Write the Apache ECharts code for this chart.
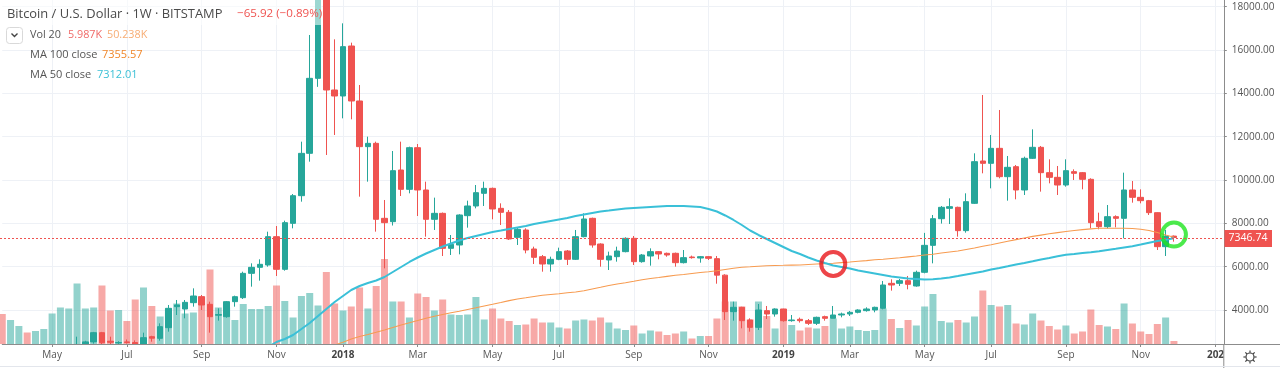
<!DOCTYPE html>
<html><head><meta charset="utf-8">
<script src="https://cdn.jsdelivr.net/npm/echarts@6/dist/echarts.min.js"></script>
<style>html,body{margin:0;padding:0;background:#fff}#c{width:1280px;height:368px}</style>
</head><body><div id="c"></div><script>
// ---- categories: weekly bars starting Monday 2017-03-20 (plus a few empty future weeks)
const firstWeek = '2017-03-20';
const weekCount = 148;
const categories = [];
(function(){ const t0 = Date.parse(firstWeek + 'T00:00:00Z');
  for (let i = 0; i < weekCount; i++) categories.push(new Date(t0 + i*7*864e5).toISOString().slice(0,10)); })();

// ---- x tick labels
const tickLabels = [
 ['2017-05-01','May'],['2017-07-03','Jul'],['2017-09-04','Sep'],['2017-11-06','Nov'],
 ['2018-01-01','2018'],['2018-03-05','Mar'],['2018-05-07','May'],['2018-07-02','Jul'],['2018-09-03','Sep'],['2018-11-05','Nov'],
 ['2019-01-07','2019'],['2019-03-04','Mar'],['2019-05-06','May'],['2019-07-01','Jul'],['2019-09-02','Sep'],['2019-11-04','Nov'],
 ['2020-01-06','202']];
const priceTicks = [4000,6000,8000,10000,12000,14000,16000,18000];

// ---- OHLC (USD), one entry per week from 2017-03-20 to 2019-12-02
const opens = [
 1040,965,1085,1190,1175,1255,1395,1620,1750,2050,
 2150,2530,2955,2560,2480,2530,2500,1920,2770,2694,
 3186,4155,4047,4340,4616,4263,3760,3693,4386,4570,
 5693,5970,6078,7385,5878,8001,9277,11232,14693,19000,
 14155,13878,16185,13647,11540,11693,8232,8078,10462,9570,
 11493,9540,8186,8462,6847,7001,8355,8801,9386,9616,
 8693,8509,7355,7693,6817,6463,6124,6340,6724,6340,
 7386,8232,7047,6309,6463,6694,7309,6232,6494,6694,
 6617,6617,6186,6447,6400,6463,6370,5610,3925,4125,
 3540,3201,3971,3817,4048,3509,3571,3509,3386,3694,
 3617,3771,3817,3894,3971,4001,4078,5232,5232,5355,
 5109,5740,6985,8215,8693,8740,7663,8924,10878,10770,
 11462,10155,10616,9540,11001,11509,10339,10124,9770,10386,
 10339,10032,8078,7847,8309,8232,9540,9201,9047,8493,
 6924,7412.66];
const highs = [
 1075,1100,1210,1215,1265,1420,1650,1790,2100,2770,
 2580,2990,2990,2770,2560,2640,2600,2955,2810,3386,
 4232,4463,4463,5001,4693,4386,4078,4416,4663,5770,
 6155,6340,7616,7877,8124,9354,11770,16693,19666,19300,
 16493,17231,16339,14385,12001,11770,9078,11339,11770,11540,
 11662,9924,9186,8500,7462,8420,9047,9770,9924,9650,
 8924,8616,7816,7770,6924,6540,6463,6878,6770,7694,
 8463,8263,7078,6694,6924,7355,7417,6586,6847,6724,
 6650,6650,6770,6510,6494,6494,6494,5650,4386,4150,
 3617,4278,4186,4078,4060,3771,3650,3586,3694,3740,
 4186,3880,3956,4032,4125,4155,5340,5417,5432,5571,
 5817,7560,8386,8801,9155,8770,9386,11232,13924,12078,
 13232,11109,10693,11078,12339,11570,10955,10647,10955,10493,
 10370,10080,8493,8847,8370,10339,9955,9570,9080,8510,
 7693,7440];
const lows = [
 900,940,1040,1160,1165,1240,1390,1570,1700,1900,
 2100,2450,2150,2350,2300,2450,1840,1880,2540,2586,
 3001,3770,3617,4155,4001,2955,3509,3647,4155,4509,
 5078,5355,6001,5570,5816,7770,9001,10847,14300,11155,
 12078,12847,12801,9232,9924,7617,5924,7900,9262,9386,
 8339,7386,7694,6493,6539,6570,7801,8693,8801,8186,
 7924,7232,7001,6617,6124,5770,5770,6300,6078,6309,
 7355,6878,6001,5847,6232,6663,6078,6186,6047,6340,
 6460,6001,6150,6370,6186,6309,5215,3540,3509,3155,
 3001,3078,3586,3694,3463,3460,3420,3310,3310,3509,
 3617,3663,3725,3848,3925,3894,4032,4894,5109,4955,
 5078,5694,6155,7990,7970,7386,7570,8893,10309,9616,
 10078,9047,9109,9309,10970,9463,9847,9309,9693,10001,
 9570,7770,7724,7770,7816,7309,8955,8924,8386,6770,
 6493,7155];
const closes = [
 965,1085,1180,1175,1255,1395,1620,1750,2050,2150,
 2530,2955,2490,2510,2500,2500,2250,2724,2700,3232,
 4078,4232,4355,4647,4232,3693,3790,4386,4616,5693,
 5970,6109,7385,5878,8032,9277,11231,14693,19000,14155,
 13878,16155,13647,11540,11693,8186,8032,10432,9570,11493,
 9540,8186,8462,6847,7032,8386,8801,9416,9616,8663,
 8509,7278,7724,6770,6432,6124,6340,6694,6340,7386,
 8201,7001,6340,6494,6724,7309,6232,6540,6694,6586,
 6540,6186,6417,6417,6463,6386,5610,3925,4125,3509,
 3201,4001,3817,4048,3509,3540,3509,3386,3663,3617,
 3771,3817,3894,4001,4048,4125,5155,5155,5355,5186,
 5740,6985,8215,8740,8770,7663,9001,10847,10770,11462,
 10155,10586,9540,11001,11509,10339,10124,9770,10432,10309,
 10032,8032,7847,8309,8232,9540,9201,9047,8493,6924,
 7412.66,7346.74];
// ---- weekly volume (K BTC)
const volumes = [
 60,48,36,23,26,30,61,73,71,121,
 71,73,117,67,68,46,89,113,76,55,
 71,81,61,63,95,149,73,73,48,80,
 70,70,76,117,86,53,96,102,77,144,
 81,67,75,113,71,116,170,85,85,53,
 101,94,67,89,59,58,59,94,49,71,
 51,46,38,39,51,43,43,33,31,47,
 49,47,53,43,31,28,37,21,27,25,
 18,21,25,11,16,16,51,85,85,75,
 49,85,56,31,47,38,27,33,31,36,
 51,31,35,28,26,28,71,50,32,48,
 37,75,100,46,43,48,43,55,107,78,
 75,78,41,39,61,47,36,29,37,21,
 25,69,38,35,30,81,41,25,20,40,
 53,5.987];
// ---- MA 50 close, starting week 2017-10-30
const ma50Start = '2017-10-30';
const ma50 = [
 2294,
 2525,2663,2848,3125,3401,3724,4048,4371,4647,4924,
 5109,5247,5363,5524,5755,5986,6217,6424,6609,6770,
 6932,7070,7209,7324,7417,7509,7601,7670,7740,7809,
 7878,7970,8040,8109,8178,8247,8340,8409,8478,8547,
 8593,8640,8686,8709,8732,8755,8778,8801,8801,8801,
 8778,8755,8663,8547,8363,8155,7924,7670,7463,7278,
 7094,6909,6724,6586,6424,6286,6170,6055,5986,5917,
 5824,5755,5686,5617,5547,5501,5455,5432,5409,5418,
 5455,5501,5570,5640,5709,5778,5870,5940,6018,6101,
 6170,6249,6332,6401,6479,6549,6586,6632,6664,6710,
 6770,6826,6886,6946,7024,7107,7186,7246,7312.01];
// ---- MA 100 close, starting week 2017-12-25
const ma100Start = '2017-12-25';
const ma100 = [
 2386,
 2510,2663,2778,2871,2972,3078,3193,3309,3410,3516,
 3618,3710,3793,3871,3945,4024,4102,4185,4264,4347,
 4435,4509,4564,4624,4679,4716,4753,4795,4832,4887,
 4970,5049,5132,5201,5261,5326,5395,5455,5501,5552,
 5603,5640,5686,5732,5764,5810,5870,5931,5972,5995,
 6023,6046,6055,6064,6074,6078,6101,6124,6143,6161,
 6189,6217,6249,6281,6318,6346,6378,6410,6452,6493,
 6539,6576,6632,6678,6724,6793,6862,6941,7015,7093,
 7172,7250,7324,7398,7458,7518,7573,7624,7670,7712,
 7744,7772,7776,7776,7772,7763,7730,7670,7578,7463,
 7355.57];
// ---- hand-drawn annotation circles
const annotations = [
 {date:'2019-02-18', price:6124, color:'#e8161b'},
 {date:'2019-12-02', price:7480, color:'#1fe51f'}];

const FONT = "'Open Sans', sans-serif";
const UP = '#26a69a', DOWN = '#ef5350';
const tickMap = Object.fromEntries(tickLabels);
const showTick = (idx, val) => tickMap[val] !== undefined;
const padTo = (arr, start) => Array(categories.indexOf(start)).fill(null).concat(arr);
const candleData = opens.map((o, i) => [o, closes[i], lows[i], highs[i]]);
const lastClose = closes[closes.length - 1];

const graphic = [
 {type:'rect', shape:{x:0,y:344.5,width:1223.5,height:24}, style:{fill:'#fff'}, z:8, silent:true},
 {type:'rect', shape:{x:0,y:0,width:322,height:25}, style:{fill:'rgba(255,255,255,0.55)'}, z:100, silent:true},
 {type:'text', x:7, y:14, z:101, style:{text:'Bitcoin / U.S. Dollar · 1W · BITSTAMP', fill:'#4a4a4a', font:'12.9px ' + FONT, verticalAlign:'middle'}},
 {type:'text', x:237, y:14, z:101, style:{text:'−65.92 (−0.89%)', fill:'#ef5350', font:'11.6px ' + FONT, verticalAlign:'middle'}},
 {type:'rect', shape:{x:6.5,y:27.5,width:16,height:16,r:3}, style:{fill:'#fff', stroke:'#d9d9d9', lineWidth:1}, z:101},
 {type:'polyline', shape:{points:[[11.5,33.5],[14.5,36.5],[17.5,33.5]]}, style:{stroke:'#444', lineWidth:1.4, fill:null}, z:102},
 {type:'text', x:30, y:35, z:101, style:{text:'Vol 20', fill:'#555', font:'10.8px ' + FONT, verticalAlign:'middle'}},
 {type:'text', x:68, y:35, z:101, style:{text:'5.987K', fill:'#f06a68', font:'10.8px ' + FONT, verticalAlign:'middle'}},
 {type:'text', x:107, y:35, z:101, style:{text:'50.238K', fill:'#f7ad74', font:'10.8px ' + FONT, verticalAlign:'middle'}},
 {type:'text', x:30, y:55, z:101, style:{text:'MA 100 close', fill:'#555', font:'11px ' + FONT, verticalAlign:'middle'}},
 {type:'text', x:102, y:55, z:101, style:{text:'7355.57', fill:'#f0872a', font:'11px ' + FONT, verticalAlign:'middle'}},
 {type:'text', x:30, y:75, z:101, style:{text:'MA 50 close', fill:'#555', font:'11px ' + FONT, verticalAlign:'middle'}},
 {type:'text', x:97, y:75, z:101, style:{text:'7312.01', fill:'#3cc0d6', font:'11px ' + FONT, verticalAlign:'middle'}},
 {type:'line', shape:{x1:1223.8,y1:344,x2:1223.8,y2:368}, style:{stroke:'#8c8c8c', lineWidth:1}, z:50},
 {type:'line', shape:{x1:1223.8,y1:344.5,x2:1280,y2:344.5}, style:{stroke:'#8c8c8c', lineWidth:1}, z:50},
 {type:'line', shape:{x1:0,y1:366.5,x2:1280,y2:366.5}, style:{stroke:'#e3e6ec', lineWidth:1}, z:50},
 {type:'circle', shape:{cx:1250,cy:357,r:4}, style:{fill:'#fff', stroke:'#444', lineWidth:1.2}, z:60}
];
for (let k = 0; k < 8; k++) {
  const a = k * Math.PI / 4;
  graphic.push({type:'line', shape:{x1:1250+4.3*Math.cos(a), y1:357+4.3*Math.sin(a), x2:1250+6.6*Math.cos(a), y2:357+6.6*Math.sin(a)}, style:{stroke:'#444', lineWidth:1.2}, z:60});
}

const option = {
  animation: false,
  backgroundColor: '#fff',
  grid: {left: 2.25, right: 56.2, top: 0, bottom: 24, containLabel: false, outerBoundsMode: 'none'},
  xAxis: [{
    type: 'category', data: categories, boundaryGap: false, position: 'bottom', z: 0,
    axisLine: {show: false}, axisTick: {show: false}, axisLabel: {show: false},
    splitLine: {show: true, interval: showTick, lineStyle: {color: '#eef1f6', width: 1}}
  }, {
    type: 'category', data: categories, boundaryGap: false, position: 'bottom', z: 10,
    axisLine: {show: true, lineStyle: {color: '#8c8c8c', width: 1}},
    axisTick: {show: true, interval: showTick, length: 3, lineStyle: {color: '#8c8c8c'}},
    axisLabel: {interval: showTick, margin: 6, color: '#555', fontSize: 10, fontFamily: FONT,
      formatter: v => { const t = tickMap[v]; if (!t) return ''; return /^\d/.test(t) ? '{y|' + t + '}' : t; },
      rich: {y: {fontWeight: 'bold', color: '#444', fontSize: 10, fontFamily: FONT}}},
    splitLine: {show: false}
  }],
  yAxis: [{
    type: 'value', position: 'right', min: 2432, max: 18308, minInterval: 2000, maxInterval: 2000, scale: true,
    axisLine: {show: true, lineStyle: {color: '#8c8c8c', width: 1}},
    axisTick: {show: true, length: 3, lineStyle: {color: '#8c8c8c'}, customValues: priceTicks},
    axisLabel: {show: true, margin: 8, color: '#555', fontSize: 10, fontFamily: FONT, customValues: priceTicks,
      formatter: v => (v % 2000 === 0 && v >= 4000) ? v.toFixed(2) : ''},
    splitLine: {show: true, lineStyle: {color: '#eef1f6', width: 1}, customValues: priceTicks}
  }, {
    type: 'value', show: false, min: 0, max: 688, splitLine: {show: false}
  }],
  series: [
    {type: 'bar', name: 'Vol', xAxisIndex: 0, yAxisIndex: 1, data: volumes, barWidth: 7, clip: false, silent: true, z: 1,
     itemStyle: {color: p => closes[p.dataIndex] >= opens[p.dataIndex] ? 'rgba(38,166,154,0.5)' : 'rgba(239,83,80,0.5)'}},
    {type: 'candlestick', name: 'BTCUSD', xAxisIndex: 0, data: candleData, barWidth: 6, clip: true, silent: true, z: 3,
     itemStyle: {color: UP, color0: DOWN, borderColor: UP, borderColor0: DOWN, borderWidth: 1}},
    {type: 'line', name: 'MA 100', xAxisIndex: 0, data: padTo(ma100, ma100Start), showSymbol: false, clip: true, silent: true, z: 4,
     lineStyle: {color: '#f79b50', width: 1.1}},
    {type: 'line', name: 'MA 50', xAxisIndex: 0, data: padTo(ma50, ma50Start), showSymbol: false, clip: true, silent: true, z: 5,
     lineStyle: {color: '#3ac0d8', width: 2}},
    {type: 'scatter', name: 'marks', xAxisIndex: 0, silent: true, z: 6, symbol: 'circle', symbolSize: 24,
     data: annotations.map(a => ({value: [categories.indexOf(a.date), a.price],
       itemStyle: {color: 'rgba(0,0,0,0)', borderColor: a.color, borderWidth: 4}}))}
  ],
  graphic: graphic
};
const chart = echarts.init(document.getElementById('c'));
chart.setOption(option);

// current-price line and label, positioned through the price scale
const py = Math.round(chart.convertToPixel({yAxisIndex: 0}, lastClose)) + 0.5;
const gridRect = chart.getModel().getComponent('grid').coordinateSystem.getRect();
chart.setOption({graphic: graphic.concat([
  {type:'line', shape:{x1:0, y1:py, x2:gridRect.x + gridRect.width, y2:py}, style:{stroke:'#ef5350', lineWidth:1, lineDash:[2,2]}, z:7, silent:true},
  {type:'rect', shape:{x:1224.5, y:py - 8.5, width:47.5, height:17}, style:{fill:'#ef5350'}, z:70, silent:true},
  {type:'text', x:1248, y:py, z:71, style:{text:lastClose.toFixed(2), fill:'#fff', font:'10.5px ' + FONT, align:'center', verticalAlign:'middle'}}
])});
</script></body></html>
